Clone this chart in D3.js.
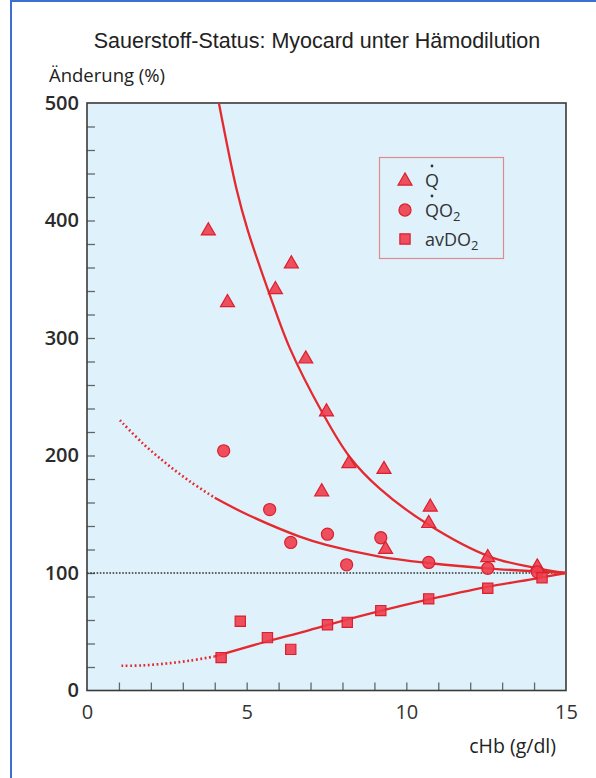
<!DOCTYPE html>
<html><head><meta charset="utf-8">
<script src="https://cdn.jsdelivr.net/npm/d3@7"></script>
<style>body{margin:0;background:#fff;} svg{display:block;}</style>
</head><body>
<script>
// ---- data ----
const xTicks = [0, 5, 10, 15];
const yTicks = [0, 100, 200, 300, 400, 500];
// Q (triangles)
const qX = [3.8, 4.4, 5.9, 6.4, 6.85, 7.5, 8.2, 9.3, 7.35, 9.35, 10.75, 10.7, 12.55, 14.1];
const qY = [392, 331, 342, 364, 283, 238, 194, 189, 170, 121, 157, 143, 114, 106];
// QO2 (circles)
const qo2X = [4.28, 5.72, 6.38, 7.53, 8.13, 9.2, 10.7, 12.55, 14.1];
const qo2Y = [204, 154, 126, 133, 107, 130, 109, 104, 101];
// avDO2 (squares)
const avX = [4.2, 4.8, 5.65, 6.38, 7.53, 8.15, 9.2, 10.7, 12.55, 14.25];
const avY = [28, 59, 45, 35, 56, 58, 68, 78, 87, 96];
// fitted curves
const qCurveX = [4.13, 4.68, 5.03, 5.72, 6.34, 7.38, 8.22, 9.16, 10.7, 12.6, 14.1, 15];
const qCurveY = [500, 427, 392, 337, 292, 236, 199, 172, 141, 114, 104, 100];
const qo2DotX = [1.03, 1.76, 2.49, 3.22, 4.0];
const qo2DotY = [230, 210, 193, 178, 164];
const qo2CurveX = [4.0, 5.0, 6.66, 7.49, 9.16, 10.7, 12.5, 15];
const qo2CurveY = [164, 150, 131, 124, 114, 108.5, 104, 100];
const avDotX = [1.08, 1.76, 2.49, 3.22, 4.0];
const avDotY = [21, 21.4, 23, 25.4, 29];
const avCurveX = [4.0, 5.6, 6.66, 7.49, 9.16, 10.7, 12.5, 14.1, 15];
const avCurveY = [29, 41.5, 49, 55.5, 67.5, 77.5, 88, 95.5, 100];
const refLevel = 100;
const legendLabels = ["Q", "QO", "avDO"];

// ---- layout ----
const W = 596, H = 778;
const m = {left: 87, right: 566, top: 103, bottom: 690.5};
const red = "#e42a2e";
const svg = d3.select("body").append("svg").attr("width", W).attr("height", H);

// outer blue frame
svg.append("line").attr("x1", 11).attr("x2", 11).attr("y1", 0).attr("y2", H).attr("stroke", "#3d6fd2").attr("stroke-width", 2);
svg.append("line").attr("x1", 10).attr("x2", W).attr("y1", 1).attr("y2", 1).attr("stroke", "#3d6fd2").attr("stroke-width", 2);

const x = d3.scaleLinear().domain([0, 15]).range([m.left, m.right]);
const y = d3.scaleLinear().domain([0, 500]).range([m.bottom, m.top]);

// plot background
svg.append("rect").attr("x", x(0)).attr("y", y(500)).attr("width", x(15) - x(0)).attr("height", y(0) - y(500))
  .attr("fill", "#dff2fb");

// minor ticks (inside)
const gx = svg.append("g").attr("transform", `translate(0,${y(0)})`)
  .call(d3.axisTop(x).tickValues(d3.range(1, 15)).tickSize(8).tickFormat(""));
const gy = svg.append("g").attr("transform", `translate(${x(0)},0)`)
  .call(d3.axisRight(y).tickValues(d3.range(20, 500, 20)).tickSize(8).tickFormat(""));
[gx, gy].forEach(g => { g.select(".domain").remove(); g.selectAll("line").attr("stroke", "#666").attr("stroke-width", 1.3); });

// reference line at 100
svg.append("line").attr("x1", x(0)).attr("x2", x(15)).attr("y1", y(refLevel)).attr("y2", y(refLevel))
  .attr("stroke", "#333").attr("stroke-width", 1.6).attr("stroke-dasharray", "1.6,1.6");

// frame
svg.append("rect").attr("x", x(0)).attr("y", y(500)).attr("width", x(15) - x(0)).attr("height", y(0) - y(500))
  .attr("fill", "none").attr("stroke", "#3a3a3a").attr("stroke-width", 1.6);

// tick labels
const lblFont = "'Open Sans', 'Noto Sans', sans-serif";
const ax = svg.append("g").attr("transform", `translate(0,${y(0)})`)
  .call(d3.axisBottom(x).tickValues(xTicks).tickSize(0).tickPadding(14).tickFormat(d3.format("d")));
const ay = svg.append("g").attr("transform", `translate(${x(0)},0)`)
  .call(d3.axisLeft(y).tickValues(yTicks).tickSize(0).tickPadding(8).tickFormat(d3.format("d")));
[ax, ay].forEach(g => {
  g.select(".domain").remove();
  g.selectAll("text").attr("font-family", lblFont).attr("font-size", 20).attr("font-weight", 600).attr("fill", "#2b2b2b");
});
ax.selectAll("text").attr("font-weight", 500).attr("fill", "#333");

// curves
const line = d3.line().x(d => x(d[0])).y(d => y(d[1])).curve(d3.curveCatmullRom.alpha(0.5));
const zip = (a, b) => a.map((v, i) => [v, b[i]]);
const curveG = svg.append("g");
[[qCurveX, qCurveY], [qo2CurveX, qo2CurveY], [avCurveX, avCurveY]].forEach(([a, b]) => {
  curveG.append("path").attr("d", line(zip(a, b))).attr("fill", "none").attr("stroke", red).attr("stroke-width", 2.3);
});
[[qo2DotX, qo2DotY], [avDotX, avDotY]].forEach(([a, b]) => {
  curveG.append("path").attr("d", line(zip(a, b))).attr("fill", "none").attr("stroke", red)
    .attr("stroke-width", 2.6).attr("stroke-dasharray", "1.8,2.6");
});

// markers
const mFill = "#ee3d4c", mStroke = "#dc1f2c";
const sym = {
  tri: d3.symbol().type(d3.symbolTriangle).size(85),
  cir: d3.symbol().type(d3.symbolCircle).size(115),
  sq: d3.symbol().type(d3.symbolSquare).size(105)
};
function drawMarkers(xs, ys, s, dy) {
  svg.append("g").selectAll("path").data(zip(xs, ys)).join("path")
    .attr("d", s)
    .attr("transform", d => `translate(${x(d[0])},${y(d[1]) + (dy || 0)})`)
    .attr("fill", mFill).attr("fill-opacity", 0.9).attr("stroke", mStroke).attr("stroke-width", 1.2);
}
drawMarkers(qX, qY, sym.tri(), 1);
drawMarkers(qo2X, qo2Y, sym.cir());
drawMarkers(avX, avY, sym.sq());

// legend
const lg = svg.append("g");
lg.append("rect").attr("x", 379.5).attr("y", 157.5).attr("width", 124).attr("height", 101)
  .attr("fill", "#dff2fb").attr("stroke", "#e08a8e").attr("stroke-width", 1.2);
const legSyms = [sym.tri(), sym.cir(), sym.sq()];
const legY = [180, 210, 239];
legSyms.forEach((s, i) => {
  lg.append("path").attr("d", s).attr("transform", `translate(405,${legY[i] + (i === 0 ? 1 : 0)})`)
    .attr("fill", mFill).attr("fill-opacity", 0.9).attr("stroke", mStroke).attr("stroke-width", 1.2);
});
const legFont = "'Open Sans', 'Noto Sans', sans-serif";
legendLabels.forEach((t, i) => {
  const tx = lg.append("text").attr("x", 425).attr("y", legY[i] + 7).attr("font-family", legFont)
    .attr("font-size", 18).attr("fill", "#333");
  tx.append("tspan").text(t);
  if (i > 0) tx.append("tspan").attr("font-size", 13).attr("dy", 4).text("2");
  if (i < 2) {
    lg.append("circle").attr("cx", 432).attr("cy", legY[i] - 14).attr("r", 1.4).attr("fill", "#333");
  }
});

// title and axis titles
svg.append("text").attr("x", 317).attr("y", 48).attr("text-anchor", "middle")
  .attr("font-family", "'Liberation Sans', Arial, sans-serif").attr("font-size", 21.5).attr("fill", "#222")
  .text("Sauerstoff-Status: Myocard unter Hämodilution");
svg.append("text").attr("x", 49).attr("y", 82)
  .attr("font-family", lblFont).attr("font-size", 18.5).attr("fill", "#222").text("Änderung (%)");
svg.append("text").attr("x", 556).attr("y", 753).attr("text-anchor", "end")
  .attr("font-family", lblFont).attr("font-size", 19.5).attr("fill", "#222").text("cHb (g/dl)");
</script>
</body></html>
